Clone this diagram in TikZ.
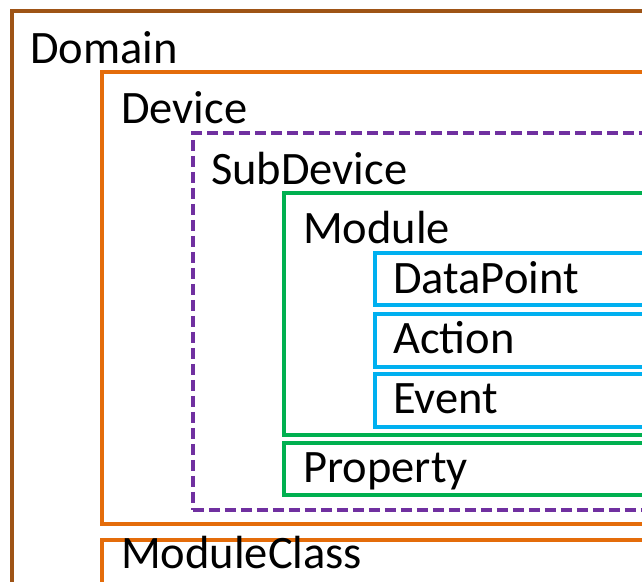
\documentclass[tikz,border=0pt]{standalone}
\usepackage{fontspec}
\setmainfont{Carlito}
\usetikzlibrary{positioning}

\definecolor{domaincol}{RGB}{158,84,22}
\definecolor{devicecol}{RGB}{228,108,10}
\definecolor{subcol}{RGB}{112,48,160}
\definecolor{modcol}{RGB}{0,176,80}
\definecolor{itemcol}{RGB}{0,176,240}

\tikzset{
	box/.style={draw, line width=3.5pt, rectangle, anchor=north west, inner sep=0pt},
	lbl/.style={anchor=base west, inner sep=0pt, font=\fontsize{46.5}{54}\selectfont}
}

\begin{document}
\begin{tikzpicture}[x=1pt,y=1pt]
	\useasboundingbox (0,0) rectangle (642,-581);
	\fill [white] (0,0) rectangle (642,-581);
	\clip (0,0) rectangle (642,-581);
	% outer boxes
	\node [box, draw=domaincol, minimum width=660pt, minimum height=620pt] (domain) at (10,-9) {};
	\node [box, draw=devicecol, minimum width=570pt, minimum height=452pt] (device) at (100,-70) {};
	\node [box, draw=subcol, dash pattern=on 11pt off 5pt, minimum width=480pt, minimum height=377pt] (subdevice) at (191,-131) {};
	\node [box, draw=modcol, minimum width=390pt, minimum height=242pt] (module) at (282,-191) {};
	% items in module
	\node [box, draw=itemcol, minimum width=300pt, minimum height=52pt] (datapoint) at (373,-251) {};
	\node [box, draw=itemcol, minimum width=300pt, minimum height=53pt] (action) at (373,-312) {};
	\node [box, draw=itemcol, minimum width=300pt, minimum height=53pt] (event) at (373,-372) {};
	\node [box, draw=modcol, minimum width=390pt, minimum height=52pt] (property) at (282,-441) {};
	\node [box, draw=devicecol, minimum width=570pt, minimum height=80pt] (moduleclass) at (100,-538) {};
	% labels
	\node [lbl] (domainlbl) at (30,-63) {Domain};
	\node [lbl] (devicelbl) at (121,-123) {Device};
	\node [lbl] (subdevicelbl) at (211,-184) {SubDevice};
	\node [lbl] (modulelbl) at (303,-243) {Module};
	\node [lbl] (datapointlbl) at (393,-293) {DataPoint};
	\node [lbl] (actionlbl) at (393,-353) {Action};
	\node [lbl] (eventlbl) at (393,-413) {Event};
	\node [lbl] (propertylbl) at (303,-482) {Property};
	\node [lbl] (moduleclasslbl) at (121,-568) {ModuleClass};
\end{tikzpicture}
\end{document}
